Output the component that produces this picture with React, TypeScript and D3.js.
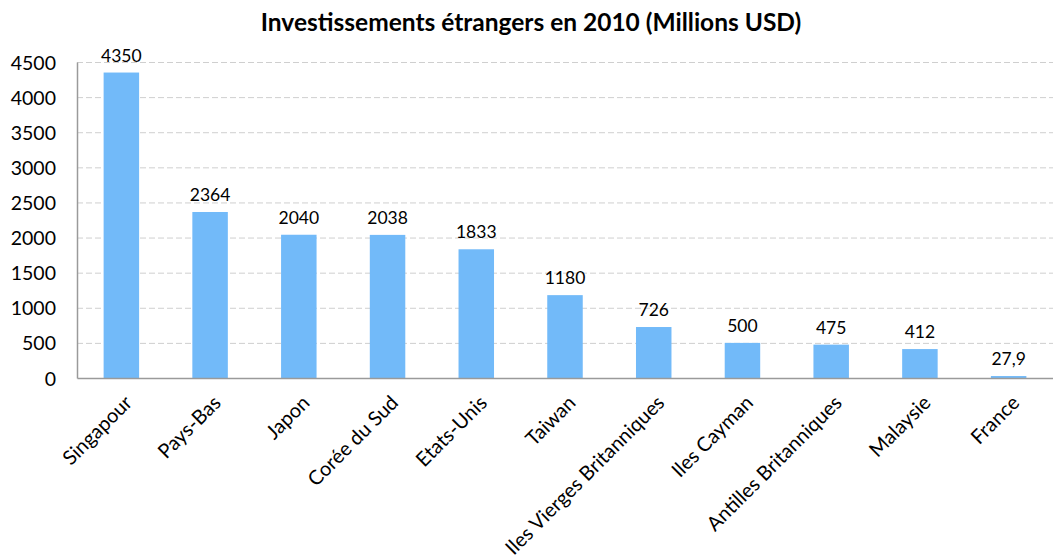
import { useEffect, useRef } from "react";
import * as d3 from "d3";

const countries = [
  "Singapour",
  "Pays-Bas",
  "Japon",
  "Corée du Sud",
  "Etats-Unis",
  "Taiwan",
  "Iles Vierges Britanniques",
  "Iles Cayman",
  "Antilles Britanniques",
  "Malaysie",
  "France",
];
const values = [4350, 2364, 2040, 2038, 1833, 1180, 726, 500, 475, 412, 27.9];
const valueLabels = ["4350", "2364", "2040", "2038", "1833", "1180", "726", "500", "475", "412", "27,9"];
const yTicks = [0, 500, 1000, 1500, 2000, 2500, 3000, 3500, 4000, 4500];

export default function App() {
  const svgRef = useRef<SVGSVGElement>(null);

  useEffect(() => {
    if (!svgRef.current) return;
    const svg = d3.select(svgRef.current);
    svg.selectAll("*").remove();

    const W = 1053;
    const H = 559;
    const margin = { top: 62, right: 0, bottom: 181, left: 77 };
    const width = W - margin.left - margin.right;
    const height = H - margin.top - margin.bottom;
    const font = "Lato, 'Open Sans', sans-serif";

    svg
      .append("rect")
      .attr("width", W)
      .attr("height", H)
      .attr("fill", "#fff");

    // Title
    svg
      .append("text")
      .attr("x", 531)
      .attr("y", 31)
      .attr("text-anchor", "middle")
      .style("font-family", font)
      .style("font-size", "24.5px")
      .style("font-weight", "bold")
      .style("fill", "#000")
      .text("Investissements étrangers en 2010 (Millions USD)");

    const g = svg
      .append("g")
      .attr("transform", `translate(${margin.left},${margin.top})`);

    const xScale = d3
      .scaleBand()
      .domain(countries)
      .range([0, width])
      .paddingInner(0.6)
      .paddingOuter(0.3);

    const yScale = d3.scaleLinear().domain([0, 4500]).range([height, 0]);

    // Gridlines
    g.selectAll(".grid")
      .data(yTicks.filter((t) => t > 0))
      .enter()
      .append("line")
      .attr("x1", 0)
      .attr("x2", width)
      .attr("y1", (d) => yScale(d) + 0.5)
      .attr("y2", (d) => yScale(d) + 0.5)
      .attr("stroke", "#cfcfcf")
      .attr("stroke-width", 1)
      .attr("stroke-dasharray", "6,3");

    // Bars
    g.selectAll(".bar")
      .data(values)
      .enter()
      .append("rect")
      .attr("x", (_, i) => xScale(countries[i]) || 0)
      .attr("width", xScale.bandwidth())
      .attr("y", (d) => yScale(d))
      .attr("height", (d) => height - yScale(d))
      .attr("fill", "#72baf9");

    // Value labels
    g.selectAll(".label")
      .data(values)
      .enter()
      .append("text")
      .attr("x", (_, i) => (xScale(countries[i]) || 0) + xScale.bandwidth() / 2)
      .attr("y", (d) => yScale(d) - 11)
      .attr("text-anchor", "middle")
      .style("font-family", font)
      .style("font-size", "17.5px")
      .style("fill", "#000")
      .text((_, i) => valueLabels[i]);

    // Y axis
    const yAxis = g
      .append("g")
      .call(
        d3
          .axisLeft(yScale)
          .tickValues(yTicks)
          .tickFormat(d3.format("d"))
          .tickSize(0)
          .tickPadding(21)
      );
    yAxis.select(".domain").attr("stroke", "#9a9a9a").attr("stroke-width", 1.5);
    yAxis
      .selectAll("text")
      .attr("dy", "0.36em")
      .style("font-family", font)
      .style("font-size", "19.5px")
      .style("fill", "#000");

    // X axis
    const xAxis = g
      .append("g")
      .attr("transform", `translate(0,${height})`)
      .call(d3.axisBottom(xScale).tickSize(0).tickPadding(0));
    xAxis.select(".domain").attr("stroke", "#9a9a9a").attr("stroke-width", 1.5);
    xAxis
      .selectAll("text")
      .attr("text-anchor", "end")
      .attr("dy", "0")
      .attr("transform", "translate(12,26) rotate(-45)")
      .style("font-family", font)
      .style("font-size", "20px")
      .style("fill", "#000");
  }, []);

  return (
    <svg
      ref={svgRef}
      width={1053}
      height={559}
      style={{ position: "absolute", left: 0, top: 0 }}
    />
  );
}
